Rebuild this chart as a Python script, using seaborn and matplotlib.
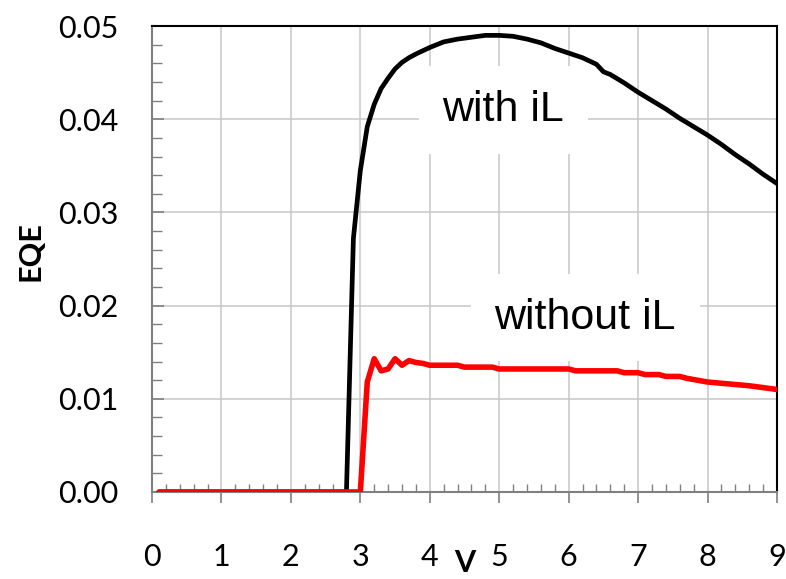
import matplotlib
matplotlib.use("Agg")
import matplotlib.pyplot as plt
import seaborn as sns
from matplotlib.ticker import MultipleLocator, FormatStrFormatter

# EQE vs voltage
v_with = [0.1, 2.8, 2.9, 3.0, 3.1, 3.2, 3.3, 3.4, 3.5, 3.6, 3.7, 3.8, 4.0, 4.2,
          4.4, 4.6, 4.8, 5.0, 5.2, 5.4, 5.6, 5.8, 6.0, 6.2, 6.4, 6.5, 6.6, 6.8,
          7.0, 7.2, 7.4, 7.6, 7.8, 8.0, 8.2, 8.4, 8.6, 8.8, 9.0]
eqe_with = [0.0, 0.0, 0.0272, 0.0345, 0.0392, 0.0416, 0.0433, 0.0444, 0.0454,
            0.0461, 0.0466, 0.0470, 0.0477, 0.0483, 0.0486, 0.0488, 0.0490,
            0.0490, 0.0489, 0.0486, 0.0482, 0.0476, 0.0471, 0.0466, 0.0459,
            0.0451, 0.0448, 0.0439, 0.0429, 0.0420, 0.0411, 0.0401, 0.0392,
            0.0383, 0.0373, 0.0362, 0.0352, 0.0341, 0.0331]

v_without = [0.1, 3.0, 3.1, 3.2, 3.3, 3.4, 3.5, 3.6, 3.7, 3.8, 3.9, 4.0, 4.4,
             4.5, 4.9, 5.0, 6.0, 6.1, 6.7, 6.8, 7.0, 7.1, 7.3, 7.4, 7.6, 7.7,
             8.0, 8.3, 8.6, 8.8, 9.0]
eqe_without = [0.0, 0.0, 0.0118, 0.0143, 0.0130, 0.0132, 0.0143, 0.0136,
               0.0141, 0.0139, 0.0138, 0.0136, 0.0136, 0.0134, 0.0134, 0.0132,
               0.0132, 0.0130, 0.0130, 0.0128, 0.0128, 0.0126, 0.0126, 0.0124,
               0.0124, 0.0122, 0.0118, 0.0116, 0.0114, 0.0112, 0.0110]

sns.set_theme(style="whitegrid", rc={"text.color": "black",
                                     "xtick.labelcolor": "black",
                                     "ytick.labelcolor": "black"})
plt.rcParams["font.family"] = ["Lato", "DejaVu Sans"]

fig = plt.figure(figsize=(7.86, 5.79), dpi=100)
ax = fig.add_axes([0.1934, 0.1503, 0.7951, 0.8047])

sns.lineplot(x=v_with, y=eqe_with, color="black", linewidth=3.4, ax=ax, zorder=4)
sns.lineplot(x=v_without, y=eqe_without, color="#ff0000", linewidth=4.0, ax=ax, zorder=5)

ax.set_xlim(0, 9)
ax.set_ylim(0, 0.05)
ax.xaxis.set_major_locator(MultipleLocator(1))
ax.xaxis.set_minor_locator(MultipleLocator(0.2))
ax.yaxis.set_major_locator(MultipleLocator(0.01))
ax.yaxis.set_minor_locator(MultipleLocator(0.002))
ax.yaxis.set_major_formatter(FormatStrFormatter("%.2f"))

ax.grid(True, which="major", color="#c8c8c8", linewidth=1.1)
ax.grid(False, which="minor")
ax.set_axisbelow(True)

for side in ["left", "bottom"]:
    ax.spines[side].set_color("#808080")
    ax.spines[side].set_linewidth(1.5)
for side in ["top", "right"]:
    ax.spines[side].set_color("black")
    ax.spines[side].set_linewidth(1.5)

ax.tick_params(axis="x", which="major", direction="out", length=8, width=1.2,
               color="#808080", pad=29, labelsize=22, labelcolor="black", bottom=True)
ax.tick_params(axis="x", which="minor", direction="in", length=6, width=1.0,
               color="#808080", bottom=True)
ax.tick_params(axis="y", which="major", direction="in", length=8.5, width=1.2,
               color="#808080", pad=24, labelsize=22, labelcolor="black", left=True)
ax.tick_params(axis="y", which="minor", direction="in", length=7, width=1.0,
               color="#808080", left=True)

ax.set_xlabel("")
ax.set_ylabel("")
fig.text(30 / 786, 0.5665, "EQE", rotation=90, ha="center", va="center",
         fontsize=22, fontweight="bold", color="black")
fig.text(465 / 786, 0.004, "V", ha="center", va="bottom",
         fontsize=22, fontweight="bold", color="black")

box = dict(boxstyle="square,pad=0.55", facecolor="white", edgecolor="none")
ax.text(5.06, 0.0410, "with iL", ha="center", va="center", fontsize=31,
        color="black", family=["Liberation Sans", "DejaVu Sans"], bbox=box, zorder=3)
ax.text(6.24, 0.0187, "without iL", ha="center", va="center", fontsize=31,
        color="black", family=["Liberation Sans", "DejaVu Sans"], bbox=box, zorder=3)

fig.savefig("out.png", dpi=100)
